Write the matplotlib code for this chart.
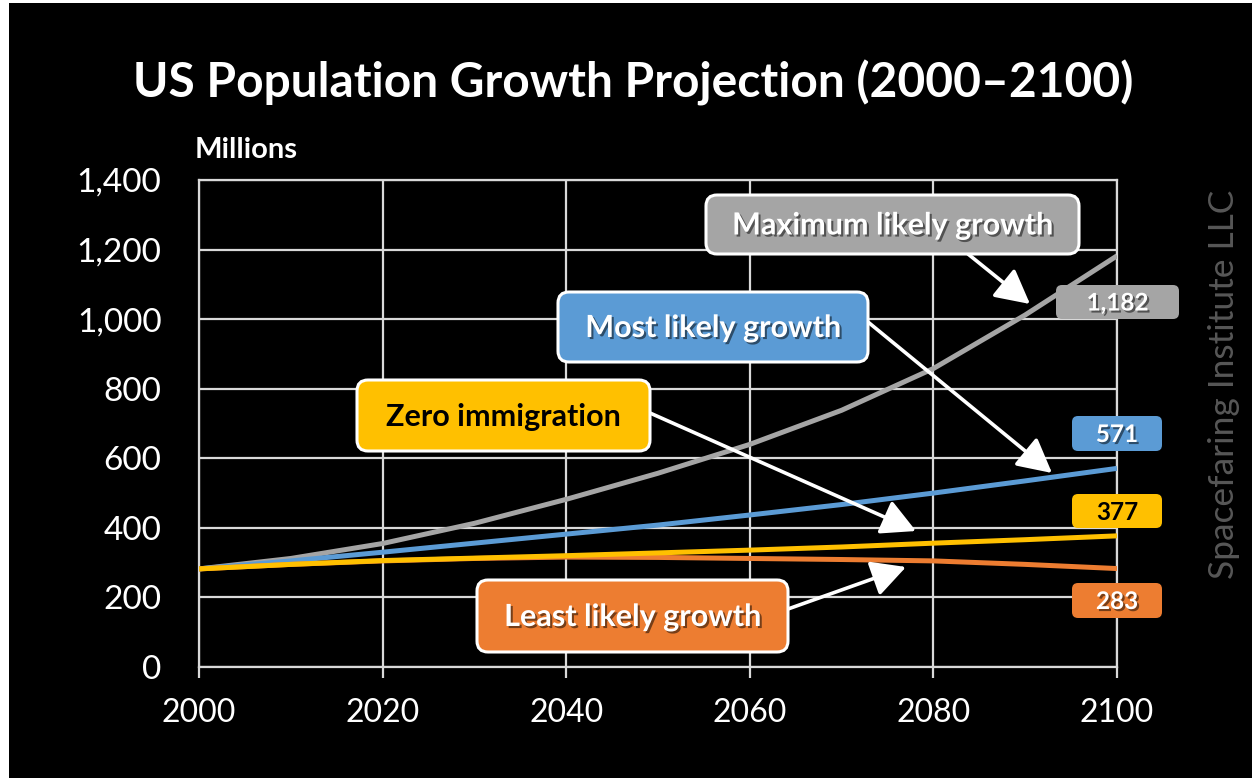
import matplotlib
matplotlib.use("Agg")
import matplotlib.pyplot as plt
from matplotlib.patches import FancyBboxPatch, Rectangle
import matplotlib.patheffects as pe

# ---------------- data ----------------
years = [2000, 2010, 2020, 2030, 2040, 2050, 2060, 2070, 2080, 2090, 2100]
max_growth = [282, 312, 355, 413, 482, 557, 640, 738, 858, 1012, 1182]
most_likely = [282, 305, 330, 356, 382, 408, 437, 467, 500, 535, 571]
zero_immigration = [282, 295, 306, 313, 320, 328, 336, 345, 356, 366, 377]
least_likely = [282, 295, 305, 312, 316, 315, 312, 309, 305, 295, 283]

series_names = ["Maximum likely growth", "Most likely growth", "Zero immigration", "Least likely growth"]
series_values = [max_growth, most_likely, zero_immigration, least_likely]
series_colors = ["#a5a5a5", "#5b9bd5", "#ffc000", "#ed7d31"]

x_ticks = [2000, 2020, 2040, 2060, 2080, 2100]
y_ticks = [0, 200, 400, 600, 800, 1000, 1200, 1400]

title = "US Population Growth Projection (2000\u20132100)"
y_unit = "Millions"
credit = "Spacefaring Institute LLC"

W, H = 1252, 778
FONT = "Lato"
GRID = "#d9d9d9"

fig = plt.figure(figsize=(W / 100, H / 100), dpi=100, facecolor="white")
# black slide background (white strip at left/top)
fig.patches.append(Rectangle((9 / W, 0), 1, 1 - 3 / H, transform=fig.transFigure,
                             facecolor="black", edgecolor="none", zorder=-10))

ax = fig.add_axes([199 / W, 1 - 667 / H, (1117 - 199) / W, (667 - 180) / H])
ax.set_facecolor("black")
ax.set_xlim(2000, 2100)
ax.set_ylim(0, 1400)
ax.set_xticks(x_ticks)
ax.set_yticks(y_ticks)
ax.set_xticklabels([str(t) for t in x_ticks])
ax.set_yticklabels([f"{t:,}" for t in y_ticks])
ax.grid(True, color=GRID, lw=1.6)
ax.set_axisbelow(True)
for s in ax.spines.values():
    s.set_color(GRID)
    s.set_linewidth(1.6)
ax.tick_params(axis="x", colors=GRID, length=8, width=1.6, direction="out", pad=14,
               labelcolor="white", labelsize=23)
ax.tick_params(axis="y", length=0, pad=27, labelcolor="white", labelsize=24)
for lab in ax.get_xticklabels() + ax.get_yticklabels():
    lab.set_fontfamily(FONT)

# draw order: gray, blue, orange, yellow (yellow on top)
zorders = [3, 4, 6, 5]
for vals, c, z in zip(series_values, series_colors, zorders):
    ax.plot(years, vals, color=c, lw=3.6, zorder=z, solid_capstyle="butt",
            solid_joinstyle="round")

# ---------------- overlay in pixel coordinates ----------------
ov = fig.add_axes([0, 0, 1, 1], facecolor="none")
ov.set_xlim(0, W)
ov.set_ylim(H, 0)
ov.axis("off")

ov.text(633, 97, title, ha="center", va="baseline", color="white", fontsize=34.5,
        fontweight="bold", family=FONT)
ov.text(195, 158, y_unit, ha="left", va="baseline", color="white", fontsize=21,
        fontweight="bold", family=FONT)
ov.text(1224, 384, credit, ha="center", va="center", rotation=90, color="#575757",
        fontsize=25.5, family=FONT)

shadow = [pe.SimplePatchShadow(offset=(1.5, -1.5), shadow_rgbFace="black", alpha=0.5), pe.Normal()]

# callout boxes: (x0, y0, x1, y1), text color, arrow start, arrow tip
callouts = [
    ((706, 195, 1079, 254), "white", (968, 254), (1030, 304)),
    ((558, 292, 868, 362), "white", (868, 322), (1052, 473)),
    ((357, 380, 650, 451), "black", (650, 413), (916, 531)),
    ((477, 580, 788, 652), "white", (788, 609), (906, 567)),
]
for name, col, (box, tc, start, tip) in zip(series_names, series_colors, callouts):
    x0, y0, x1, y1 = box
    ov.add_patch(FancyBboxPatch((x0, y0), x1 - x0, y1 - y0,
                                boxstyle="round,pad=0,rounding_size=11",
                                facecolor=col, edgecolor="white", lw=2.2, zorder=5))
    ov.text((x0 + x1) / 2, (y0 + y1) / 2 + 1, name, ha="center", va="center",
            color=tc, fontsize=22, fontweight="bold", family=FONT, zorder=6,
            path_effects=shadow if tc == "white" else None)
    ov.annotate("", xy=tip, xytext=start,
                arrowprops=dict(arrowstyle="-|>,head_length=0.95,head_width=0.5",
                                color="white", lw=2.6, shrinkA=0, shrinkB=0,
                                mutation_scale=22),
                zorder=4)

# value labels at line ends
value_boxes = [
    (1056, 285, 1179, 319),
    (1072, 416, 1162, 451),
    (1072, 494, 1162, 528),
    (1072, 583, 1162, 618),
]
for vals, col, box in zip(series_values, series_colors, value_boxes):
    x0, y0, x1, y1 = box
    tc = "black" if col == "#ffc000" else "white"
    ov.add_patch(FancyBboxPatch((x0, y0), x1 - x0, y1 - y0,
                                boxstyle="round,pad=0,rounding_size=6",
                                facecolor=col, edgecolor="none", zorder=5))
    ov.text((x0 + x1) / 2, (y0 + y1) / 2 + 1, f"{vals[-1]:,}", ha="center", va="center",
            color=tc, fontsize=17.5, fontweight="bold", family=FONT, zorder=6,
            path_effects=shadow if tc == "white" else None)

fig.savefig("out.png", dpi=100, facecolor=fig.get_facecolor())
